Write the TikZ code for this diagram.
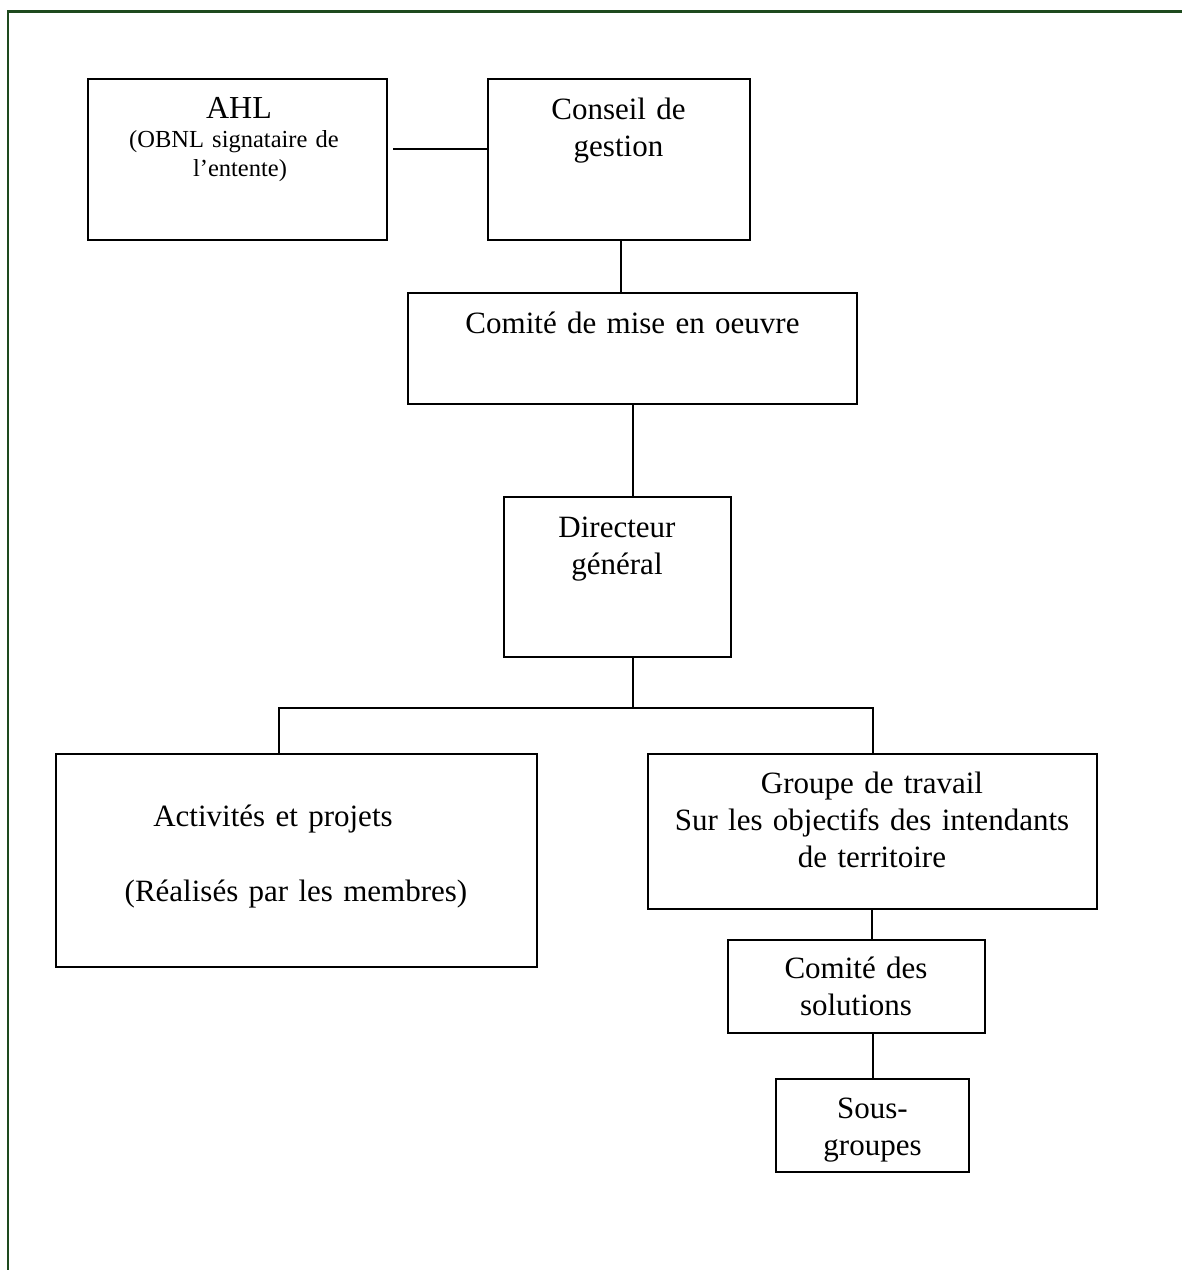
\documentclass[tikz,border=0pt]{standalone}
\usepackage{fontspec}
\setmainfont{Liberation Serif}
\definecolor{framegreen}{HTML}{1E4A1E}
\begin{document}
\begin{tikzpicture}[x=1pt,y=-1pt,
  box/.style={draw=black, line width=2pt, inner sep=0pt, fill=none},
  link/.style={draw=black, line width=2pt},
  txt/.style={anchor=base, inner sep=0pt, align=center, text width=460pt,
    font=\fontsize{31}{37}\selectfont},
  smalltxt/.style={txt, font=\fontsize{24.5}{29}\selectfont}]
\useasboundingbox (0,0) rectangle (1182,1270);
% outer frame
\draw[framegreen, line width=2.5pt] (8,1272) -- (8,11.5) -- (1184,11.5);
% boxes
\newcommand\mkbox[5]{\node[box, minimum width={#4-#2}, minimum height={#5-#3}] (#1) at ({(#2+#4)/2},{(#3+#5)/2}) {};}
\mkbox{ahl}{88}{79}{387}{240}
\mkbox{conseil}{488}{79}{750}{240}
\mkbox{mise}{408}{293}{857}{404}
\mkbox{dir}{504}{497}{731}{657}
\mkbox{act}{56}{754}{537}{967}
\mkbox{grp}{648}{754}{1097}{909}
\mkbox{sol}{728}{940}{985}{1033}
\mkbox{sous}{776}{1079}{969}{1172}
% texts
\node[txt, font=\fontsize{32}{37}\selectfont] (ahl-t1) at (239,118) {AHL};
\node[smalltxt] (ahl-t2) at (234,147) {(OBNL signataire de};
\node[smalltxt] (ahl-t3) at (240,176) {l’entente)};
\node[txt] (conseil-t) at (618.5,119) {Conseil de\\gestion};
\node[txt] (mise-t) at (632.5,333) {Comité de mise en oeuvre};
\node[txt] (dir-t) at (617,537) {Directeur\\général};
\node[txt] (act-t1) at (273,826) {Activités et projets};
\node[txt] (act-t2) at (296,901) {(Réalisés par les membres)};
\node[txt] (grp-t) at (872,793) {Groupe de travail\\Sur les objectifs des intendants\\de territoire};
\node[txt] (sol-t) at (856,978) {Comité des\\solutions};
\node[txt] (sous-t) at (872.5,1118) {Sous-\\groupes};
% connectors
\draw[link] ([xshift=5pt,yshift=10.5pt]ahl.east) -- ([yshift=10.5pt]conseil.west);
\draw[link] ([xshift=2pt]conseil.south) coordinate (cs) -- (cs |- mise.north);
\draw[link] (mise.south) -- (mise.south |- dir.north);
\coordinate (j) at (633,708);
\draw[link] (j |- dir.south) -- (j);
\draw[link] ([xshift=-17.5pt]act.north) |- (j) -| (grp.north);
\draw[link] ([xshift=-0.5pt]grp.south) coordinate (gs) -- (gs |- sol.north);
\draw[link] (sous.north |- sol.south) -- (sous.north);
\end{tikzpicture}
\end{document}
